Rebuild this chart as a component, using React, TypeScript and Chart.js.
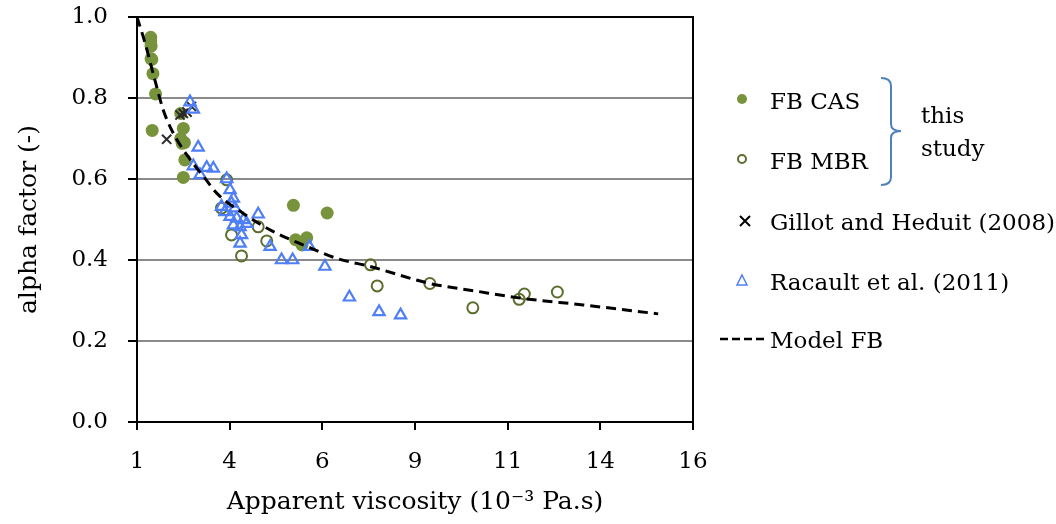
import { useEffect, useRef } from "react";
import { Chart, registerables } from "chart.js";

Chart.register(...registerables);

// ---- Data ----
const casX = [1.37, 1.37, 1.38, 1.38, 1.40, 1.43, 1.50, 1.41, 2.18, 2.25, 2.18, 2.28, 2.22, 2.29, 2.25, 5.22, 6.13, 5.28, 5.45, 5.58];
const casY = [0.950, 0.940, 0.928, 0.897, 0.895, 0.860, 0.810, 0.720, 0.762, 0.725, 0.700, 0.690, 0.688, 0.647, 0.604, 0.535, 0.516, 0.450, 0.437, 0.455];

const mbrX = [3.42, 3.28, 3.55, 3.82, 4.27, 4.50, 7.30, 7.48, 8.90, 10.06, 11.31, 11.45, 12.34];
const mbrY = [0.598, 0.528, 0.462, 0.410, 0.482, 0.447, 0.388, 0.336, 0.342, 0.282, 0.303, 0.316, 0.321];

const gillotX = [1.80, 2.16, 2.25, 2.35, 2.47];
const gillotY = [0.698, 0.758, 0.762, 0.765, 0.779];

const racaultX = [2.43, 2.52, 2.65, 2.52, 2.88, 3.06, 2.70, 3.42, 3.51, 3.60, 3.55, 3.28, 3.37, 3.64, 3.51, 3.69, 3.87, 3.60, 3.78, 3.96, 4.27, 3.82, 3.78, 4.59, 4.90, 5.20, 5.65, 6.07, 6.73, 7.53, 8.11];
const racaultY = [0.790, 0.772, 0.678, 0.632, 0.628, 0.626, 0.610, 0.600, 0.573, 0.552, 0.540, 0.532, 0.519, 0.528, 0.507, 0.503, 0.499, 0.486, 0.482, 0.490, 0.513, 0.462, 0.441, 0.433, 0.400, 0.400, 0.433, 0.384, 0.308, 0.272, 0.264];

const modelX = [1.0, 1.22, 1.53, 1.71, 1.98, 2.38, 2.83, 3.15, 3.87, 4.68, 5.49, 6.39, 7.29, 8.90, 10.16, 11.42, 13.04, 15.06];
const modelY = [1.0, 0.935, 0.828, 0.770, 0.713, 0.655, 0.602, 0.565, 0.515, 0.470, 0.437, 0.404, 0.384, 0.342, 0.323, 0.305, 0.289, 0.267];

const xTickValues = [1, 3.5, 6, 8.5, 11, 13.5, 16];
const xTickLabels = ["1", "4", "6", "9", "11", "14", "16"];
const yTickValues = [0, 0.2, 0.4, 0.6, 0.8, 1.0];
const yTickLabels = ["0.0", "0.2", "0.4", "0.6", "0.8", "1.0"];

const seriesNames = ["FB CAS", "FB MBR", "Gillot and Heduit (2008)", "Racault et al. (2011)", "Model FB"];
const xTitle = "Apparent viscosity (10\u207B\u00B3 Pa.s)";
const yTitle = "alpha factor (-)";
const bracketLines = ["this", "study"];

const FONT = "'DejaVu Serif', serif";
const GREEN = "#77933C";
const DARKGREEN = "#5B6E2C";
const BLUE = "#4F7FF5";
const XCOLOR = "#2b2b2b";

const pts = (xs: number[], ys: number[]) => xs.map((x, i) => ({ x, y: ys[i] }));

export default function App() {
  const ref = useRef<HTMLCanvasElement>(null);

  useEffect(() => {
    if (!ref.current) return;

    const legendPlugin = {
      id: "customLegend",
      afterDraw(chart: any) {
        const ctx = chart.ctx as CanvasRenderingContext2D;
        const { left, right, top, bottom } = chart.chartArea;
        ctx.save();
        // top & right frame
        ctx.strokeStyle = "#000";
        ctx.lineWidth = 2;
        ctx.beginPath();
        ctx.moveTo(left - 1, top);
        ctx.lineTo(right, top);
        ctx.lineTo(right, bottom + 1);
        ctx.stroke();

        const mx = 742;
        const tx = 770;
        // FB CAS
        ctx.fillStyle = GREEN;
        ctx.beginPath();
        ctx.arc(mx, 99, 5, 0, Math.PI * 2);
        ctx.fill();
        // FB MBR
        ctx.strokeStyle = DARKGREEN;
        ctx.lineWidth = 2;
        ctx.beginPath();
        ctx.arc(mx, 159, 4, 0, Math.PI * 2);
        ctx.stroke();
        // Gillot X
        ctx.strokeStyle = "#000";
        ctx.lineWidth = 2;
        ctx.beginPath();
        ctx.moveTo(mx + 3 - 5, 221 - 5);
        ctx.lineTo(mx + 3 + 5, 221 + 5);
        ctx.moveTo(mx + 3 + 5, 221 - 5);
        ctx.lineTo(mx + 3 - 5, 221 + 5);
        ctx.stroke();
        // Racault triangle
        ctx.strokeStyle = BLUE;
        ctx.lineWidth = 1.5;
        ctx.beginPath();
        ctx.moveTo(mx, 275);
        ctx.lineTo(mx + 5, 285);
        ctx.lineTo(mx - 5, 285);
        ctx.closePath();
        ctx.stroke();
        // Model dashed
        ctx.strokeStyle = "#000";
        ctx.lineWidth = 2.5;
        ctx.setLineDash([8, 4]);
        ctx.beginPath();
        ctx.moveTo(720, 339);
        ctx.lineTo(767, 339);
        ctx.stroke();
        ctx.setLineDash([]);

        ctx.fillStyle = "#000";
        ctx.font = `23px ${FONT}`;
        ctx.textAlign = "left";
        ctx.textBaseline = "alphabetic";
        const baselines = [109, 169, 230, 290, 348];
        seriesNames.forEach((n, i) => ctx.fillText(n, tx, baselines[i]));

        // bracket
        ctx.strokeStyle = "#4F81BD";
        ctx.lineWidth = 2;
        ctx.beginPath();
        ctx.moveTo(881, 78);
        ctx.quadraticCurveTo(891, 78, 891, 86);
        ctx.lineTo(891, 124);
        ctx.quadraticCurveTo(891, 131, 901, 131);
        ctx.moveTo(891, 138);
        ctx.quadraticCurveTo(891, 131, 901, 131);
        ctx.moveTo(891, 138);
        ctx.lineTo(891, 177);
        ctx.quadraticCurveTo(891, 185, 881, 185);
        ctx.stroke();

        ctx.fillStyle = "#000";
        ctx.fillText(bracketLines[0], 921, 123);
        ctx.fillText(bracketLines[1], 921, 156);
        ctx.restore();
      },
    };

    const chart = new Chart(ref.current, {
      type: "scatter",
      data: {
        datasets: [
          {
            label: seriesNames[0],
            data: pts(casX, casY),
            pointStyle: "circle",
            pointRadius: 6.5,
            backgroundColor: GREEN,
            borderColor: GREEN,
            borderWidth: 0,
            order: 5,
          },
          {
            label: seriesNames[1],
            data: pts(mbrX, mbrY),
            pointStyle: "circle",
            pointRadius: 5.5,
            backgroundColor: "rgba(255,255,255,0)",
            borderColor: DARKGREEN,
            borderWidth: 2,
            order: 4,
          },
          {
            label: seriesNames[2],
            data: pts(gillotX, gillotY),
            pointStyle: "crossRot",
            pointRadius: 6.5,
            borderColor: XCOLOR,
            borderWidth: 2,
            order: 3,
          },
          {
            label: seriesNames[3],
            data: pts(racaultX, racaultY),
            pointStyle: "triangle",
            pointRadius: 6.5,
            backgroundColor: "rgba(255,255,255,0)",
            borderColor: BLUE,
            borderWidth: 2.2,
            order: 2,
          },
          {
            label: seriesNames[4],
            data: pts(modelX, modelY),
            showLine: true,
            pointRadius: 0,
            borderColor: "#000",
            borderWidth: 3,
            borderDash: [10, 6],
            cubicInterpolationMode: "monotone",
            order: 1,
          } as any,
        ],
      },
      options: {
        responsive: false,
        animation: false,
        layout: { padding: { left: 0, top: 17, right: 363, bottom: 0 } },
        plugins: { legend: { display: false }, tooltip: { enabled: false } },
        scales: {
          x: {
            type: "linear",
            min: 1,
            max: 16,
            afterBuildTicks: (s: any) => {
              s.ticks = xTickValues.map((v) => ({ value: v }));
            },
            afterFit: (s: any) => {
              s.height = 102;
              s.paddingTop = 0;
              s.paddingBottom = 0;
            },
            ticks: {
              autoSkip: false,
              maxRotation: 0,
              padding: 18,
              color: "#000",
              font: { family: FONT, size: 23 },
              callback: (_v: any, i: number) => xTickLabels[i],
            },
            grid: { drawOnChartArea: false, tickLength: 8, tickColor: "#000", lineWidth: 2 },
            border: { color: "#000", width: 2 },
            title: {
              display: true,
              text: xTitle,
              color: "#000",
              font: { family: FONT, size: 25 },
              padding: { top: 0, bottom: 7 },
            },
          },
          y: {
            type: "linear",
            min: 0,
            max: 1,
            afterBuildTicks: (s: any) => {
              s.ticks = yTickValues.map((v) => ({ value: v }));
            },
            afterFit: (s: any) => {
              s.width = 137;
              s.paddingTop = 0;
              s.paddingBottom = 0;
            },
            ticks: {
              autoSkip: false,
              padding: 20,
              color: "#000",
              font: { family: FONT, size: 23 },
              callback: (_v: any, i: number) => yTickLabels[i],
            },
            grid: {
              color: (c: any) =>
                c.tick && (c.tick.value === 0 || c.tick.value === 1) ? "rgba(0,0,0,0)" : "#8a8a8a",
              lineWidth: 2,
              tickLength: 9,
              tickColor: "#000",
            },
            border: { color: "#000", width: 2 },
            title: {
              display: true,
              text: yTitle,
              color: "#000",
              font: { family: FONT, size: 25 },
              padding: { top: 14, bottom: 0 },
            },
          },
        },
      },
      plugins: [legendPlugin],
    } as any);

    return () => chart.destroy();
  }, []);

  return (
    <div style={{ position: "absolute", left: 0, top: 0, width: 1056, height: 524, background: "#fff" }}>
      <canvas ref={ref} width={1056} height={524} style={{ display: "block" }} />
    </div>
  );
}
